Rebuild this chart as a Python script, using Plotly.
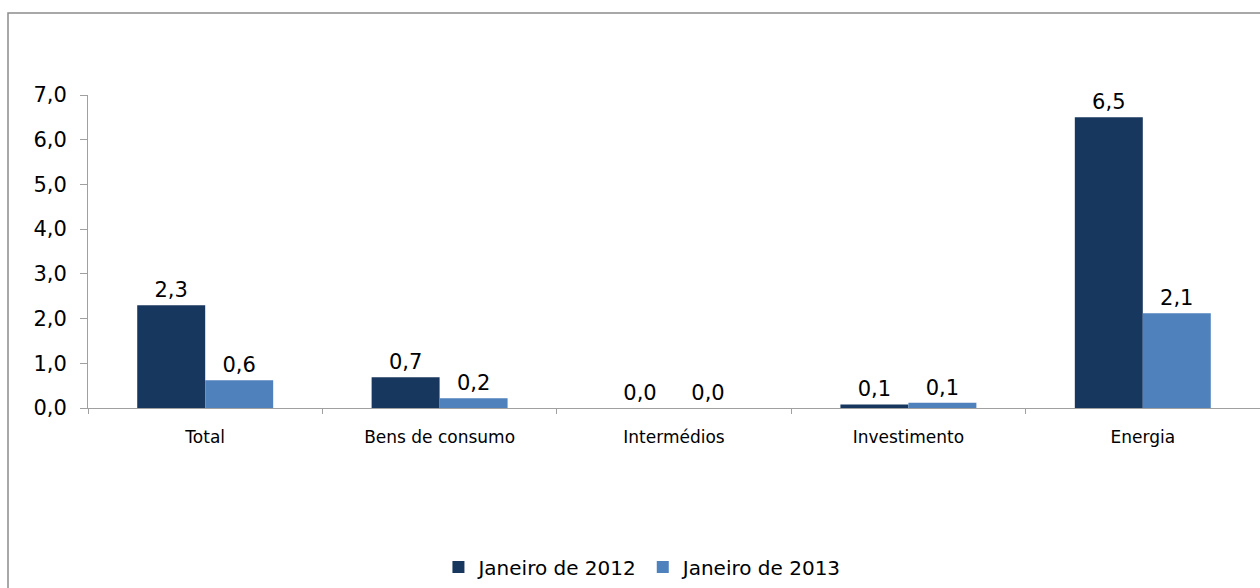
import plotly.graph_objects as go

categories = ["Total", "Bens de consumo", "Intermédios", "Investimento", "Energia"]
jan2012 = [2.3, 0.69, 0.0, 0.08, 6.5]
jan2013 = [0.62, 0.22, 0.0, 0.12, 2.12]
series_names = ["Janeiro de 2012", "Janeiro de 2013"]
colors = ["#17375E", "#4F81BD"]

FONT = "DejaVu Sans"

fig = go.Figure()
for name, vals, col in zip(series_names, [jan2012, jan2013], colors):
    fig.add_trace(go.Bar(
        x=categories, y=vals, name=name,
        marker=dict(color=col, line=dict(width=0)),
        texttemplate="%{y:.1f}", textposition="outside",
        textfont=dict(family=FONT, size=21, color="#000000"),
        cliponaxis=False,
    ))

fig.update_layout(
    width=1260, height=588,
    margin=dict(l=88, r=0, t=95, b=180),
    paper_bgcolor="white", plot_bgcolor="white",
    separators=",.",
    barmode="group", bargap=0.42, bargroupgap=0,
    font=dict(family=FONT, color="#000000"),
    showlegend=True,
    legend=dict(orientation="h", x=0.4735, xanchor="center", y=-0.508, yanchor="middle",
                font=dict(family=FONT, size=20), itemsizing="constant", itemwidth=30,
                tracegroupgap=0, traceorder="normal"),
    shapes=[dict(type="rect", xref="paper", yref="paper",
                 x0=(8 - 88) / 1172, x1=1.02, y0=-0.62, y1=1 + (95 - 13) / 313,
                 line=dict(color="#8C8C8C", width=1.5), fillcolor="rgba(0,0,0,0)", layer="below")],
)
fig.update_yaxes(range=[0, 7], dtick=1, tickformat=".1f", showgrid=False, zeroline=False,
                 showline=True, linecolor="#A0A0A0", linewidth=1,
                 ticks="outside", ticklen=7, tickcolor="#A0A0A0",
                 tickfont=dict(family=FONT, size=21), ticklabelstandoff=9)
fig.update_xaxes(showgrid=False, showline=True, linecolor="#A0A0A0", linewidth=1,
                 ticks="outside", ticklen=5, tickcolor="#A0A0A0", tickson="boundaries",
                 tickfont=dict(family=FONT, size=17), ticklabelstandoff=14)

fig.write_html("out.html")
